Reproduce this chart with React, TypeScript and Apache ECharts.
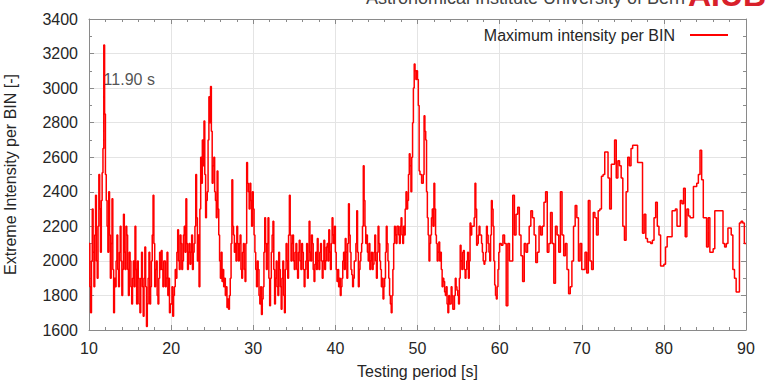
import React, { useEffect, useRef } from 'react';
import * as echarts from 'echarts';

// Start of each 10-second block; every block is split into equal bins
const decades = [10, 20, 30, 40, 50, 60, 70, 80];
const BLOCK = 10;

// Maximum intensity per BIN (0.1 s bins up to 60 s, 0.2 s after)
const seg10 = [2100, 1850, 1700, 2000, 2300, 2050, 1850, 2150, 2380, 2000, 1900, 2200, 2500, 2300, 2050, 2350, 2510, 2650, 3250, 2850, 2500, 2350, 2200, 2050, 2400, 2150, 1900, 2100, 2360, 1950, 1700, 1900, 1850, 2000, 2150, 1950, 1850, 2050, 2200, 2000, 1800, 1950, 2270, 2050, 1950, 2200, 2150, 1950, 1800, 2050, 2000, 1850, 1750, 1900, 2000, 1850, 2200, 1950, 1750, 2000, 1900, 1750, 1700, 1900, 2050, 1850, 1680, 1900, 2080, 1850, 1620, 1750, 1900, 2050, 1750, 1850, 2000, 2150, 2380, 2100, 1850, 1950, 2000, 1800, 1750, 1900, 2050, 1950, 2060, 1950, 1850, 2000, 2000, 1850, 1900, 2050, 1800, 1900, 1700, 1750];
const seg20 = [1750, 1850, 1680, 1800, 1850, 1950, 1900, 2050, 2180, 2000, 1950, 2150, 2100, 1950, 2000, 2150, 2200, 2050, 2360, 2100, 1950, 2050, 2100, 1980, 2050, 2150, 1950, 2050, 2100, 2200, 2500, 2250, 2000, 2150, 1850, 2300, 2600, 2450, 2700, 2550, 2810, 2500, 2250, 2350, 2400, 2700, 2950, 2800, 3010, 2750, 2450, 2550, 2600, 2400, 2350, 2250, 2520, 2300, 2150, 2000, 1900, 2050, 1880, 1950, 1850, 1900, 1800, 1850, 1730, 1780, 1720, 1800, 1900, 2100, 2470, 2200, 2150, 2050, 2100, 2000, 2200, 2100, 2000, 2100, 2150, 1950, 1900, 2050, 2100, 1950, 1880, 2100, 2570, 2450, 2400, 2300, 2450, 2350, 2200, 2400];
const seg30 = [2300, 2150, 2050, 1950, 1850, 2000, 1950, 1800, 1750, 1850, 1690, 1780, 1850, 2050, 2250, 2100, 1950, 2100, 2250, 1900, 1740, 1900, 2050, 2150, 2230, 1950, 1750, 1900, 2000, 1850, 1800, 2050, 1950, 1850, 1720, 1900, 2000, 1800, 1700, 1950, 2100, 2000, 1900, 2150, 2380, 2150, 2000, 2100, 2150, 2000, 1950, 2050, 2100, 1950, 1900, 2050, 2120, 2000, 1950, 2100, 2050, 1950, 1850, 1950, 2000, 2100, 1900, 2000, 2230, 2050, 2000, 2150, 2100, 1950, 1880, 1980, 2050, 1950, 2130, 2000, 1950, 2050, 2100, 2000, 1900, 2000, 2120, 1950, 2000, 2080, 2100, 2000, 2180, 2050, 1950, 2100, 2250, 2150, 2100, 2200];
const seg40 = [2050, 1950, 1880, 1950, 1850, 1900, 1800, 1850, 1900, 2000, 2050, 1950, 2130, 2050, 1900, 2100, 2330, 2150, 2050, 1950, 1920, 1850, 1900, 2000, 2000, 2100, 2290, 2050, 1850, 1950, 2000, 2050, 2100, 2200, 2550, 2350, 2200, 2100, 2150, 2050, 2000, 2100, 1950, 2000, 2050, 1950, 1980, 2050, 2150, 2000, 1900, 2050, 2200, 2100, 2000, 1950, 1850, 1900, 1780, 1850, 1900, 2050, 2200, 2100, 2000, 1900, 1800, 1750, 1700, 1800, 1950, 2100, 2200, 2150, 2100, 2200, 2200, 2150, 2100, 2200, 2250, 2150, 2100, 2200, 2150, 2300, 2400, 2300, 2350, 2500, 2620, 2550, 2400, 2600, 2800, 3000, 3140, 3100, 3050, 3100];
const seg50 = [3050, 2900, 2520, 2500, 2500, 2450, 2450, 2500, 2840, 2750, 2700, 2400, 2250, 2150, 2000, 2100, 2150, 2250, 2300, 2200, 2450, 2300, 2150, 2100, 2000, 2050, 2110, 2000, 2050, 1950, 1850, 1900, 1880, 1820, 1800, 1850, 1750, 1700, 1800, 1750, 1750, 1850, 1800, 1720, 1720, 1800, 1900, 1850, 1830, 1800, 1750, 1900, 2090, 2000, 1950, 2050, 2060, 1950, 1900, 1950, 2000, 2050, 1900, 2000, 2220, 2150, 2200, 2200, 2200, 2250, 2450, 2300, 2090, 2100, 2150, 2200, 2150, 2150, 2100, 2050, 2000, 1980, 2000, 2050, 2200, 2150, 2100, 2050, 2000, 2150, 2350, 2300, 2200, 2000, 1860, 1800, 1780, 1850, 1950, 2050];
const seg60 = [2100, 2090, 2150, 2100, 1740, 2100, 2000, 2000, 2380, 2150, 2270, 2310, 2150, 2030, 1880, 2100, 2050, 2100, 2200, 2290, 2250, 2150, 1990, 2050, 2200, 2150, 2200, 2340, 2400, 2050, 2100, 2280, 2100, 1870, 2200, 2150, 2050, 2400, 2150, 2030, 2100, 1950, 1810, 1850, 2000, 2200, 2320, 2250, 2000, 2100];
const seg70 = [1950, 1950, 2050, 1930, 2350, 2000, 1950, 2280, 2250, 2150, 2290, 2300, 2490, 2500, 2630, 2630, 2480, 2300, 2560, 2560, 2700, 2480, 2580, 2550, 2480, 2200, 2120, 2400, 2600, 2550, 2650, 2670, 2670, 2670, 2570, 2570, 2570, 2160, 2270, 2130, 2110, 2110, 2100, 2120, 2250, 2340, 2200, 2150, 1970, 1970];
const seg80 = [1980, 2080, 2140, 2140, 2140, 2290, 2290, 2300, 2200, 2200, 2350, 2330, 2420, 2140, 2300, 2260, 2250, 2250, 2430, 2430, 2450, 2500, 2640, 2470, 2250, 2250, 2080, 2250, 2050, 2050, 2070, 2290, 2290, 2290, 2290, 2290, 2100, 2080, 2100, 2190, 2190, 2150, 1950, 1900, 1820, 1820, 2220, 2230, 2220, 2100];

const segments = [seg10, seg20, seg30, seg40, seg50, seg60, seg70, seg80];

// Annotation
const peakLabel = '11.90 s';
const peakLabelPos: [number, number] = [11.9, 3050];

const seriesName = 'Maximum intensity per BIN';
const xName = 'Testing period [s]';
const yName = 'Extreme Intensity per BIN [-]';
const headerText = 'Astronomical Institute University of Bern';
const logoText = 'AIUB';

const FONT = '"Liberation Sans", Arial, Helvetica, sans-serif';

function buildData(): [number, number][] {
  const out: [number, number][] = [];
  segments.forEach((seg, k) => {
    const bin = BLOCK / seg.length;
    seg.forEach((v, i) => {
      out.push([Math.round((decades[k] + i * bin) * 1000) / 1000, v]);
    });
  });
  const last = out[out.length - 1][1];
  out.push([90, last]);
  return out;
}

export default function App() {
  const ref = useRef<HTMLDivElement>(null);

  useEffect(() => {
    if (!ref.current) return;
    const chart = echarts.init(ref.current, undefined, { renderer: 'svg' });
    const data = buildData();
    const axisColor = '#8a8a8a';
    const textColor = '#262626';

    const commonX = { type: 'value' as const, min: 10, max: 90, interval: 10 };
    const commonY = { type: 'value' as const, min: 1600, max: 3400, interval: 200 };

    chart.setOption({
      animation: false,
      backgroundColor: '#ffffff',
      textStyle: { fontFamily: FONT },
      grid: {
        left: 89,
        right: 30,
        top: 19,
        bottom: 59,
        containLabel: false,
        outerBoundsMode: 'none',
      },
      legend: {
        data: [{ name: seriesName, icon: 'rect' }],
        right: 48,
        top: 27,
        padding: 0,
        align: 'right',
        itemWidth: 38,
        itemHeight: 2,
        selectedMode: false,
        textStyle: { fontSize: 16, color: textColor, fontFamily: FONT, padding: [0, 10, 0, 0] },
      },
      xAxis: [
        {
          ...commonX,
          position: 'bottom',
          name: xName,
          nameLocation: 'middle',
          nameGap: 33,
          nameTextStyle: { fontSize: 16, color: textColor, fontFamily: FONT },
          axisLine: { show: true, lineStyle: { color: axisColor, width: 1 } },
          axisTick: { show: true, inside: true, length: 5, lineStyle: { color: axisColor } },
          minorTick: { show: true, splitNumber: 5, length: 3, lineStyle: { color: axisColor } },
          axisLabel: { show: true, margin: 10, fontSize: 16, color: textColor, fontFamily: FONT },
          splitLine: { show: true, lineStyle: { color: '#e4e4e4', width: 1 } },
        },
        {
          ...commonX,
          position: 'top',
          axisLine: { show: true, lineStyle: { color: axisColor, width: 1 } },
          axisTick: { show: true, inside: true, length: 5, lineStyle: { color: axisColor } },
          minorTick: { show: true, splitNumber: 5, length: 3, lineStyle: { color: axisColor } },
          axisLabel: { show: false },
          splitLine: { show: false },
        },
      ],
      yAxis: [
        {
          ...commonY,
          position: 'left',
          name: yName,
          nameLocation: 'middle',
          nameGap: 71,
          nameRotate: 90,
          nameTextStyle: { fontSize: 16, color: textColor, fontFamily: FONT },
          axisLine: { show: true, lineStyle: { color: axisColor, width: 1 } },
          axisTick: { show: true, inside: true, length: 5, lineStyle: { color: axisColor } },
          minorTick: { show: true, splitNumber: 2, length: 3, lineStyle: { color: axisColor } },
          axisLabel: {
            show: true,
            margin: 11,
            fontSize: 16,
            color: textColor,
            fontFamily: FONT,
            formatter: (v: number) => String(v),
          },
          splitLine: { show: true, lineStyle: { color: '#e4e4e4', width: 1 } },
        },
        {
          ...commonY,
          position: 'right',
          axisLine: { show: true, lineStyle: { color: axisColor, width: 1 } },
          axisTick: { show: true, inside: true, length: 5, lineStyle: { color: axisColor } },
          minorTick: { show: true, splitNumber: 2, length: 3, lineStyle: { color: axisColor } },
          axisLabel: { show: false },
          splitLine: { show: false },
        },
      ],
      series: [
        {
          name: seriesName,
          type: 'line',
          step: 'end',
          xAxisIndex: 0,
          yAxisIndex: 0,
          data,
          showSymbol: false,
          symbol: 'none',
          lineStyle: { color: '#ff0000', width: 1.5 },
          itemStyle: { color: '#ff0000' },
          z: 3,
        },
        {
          name: 'label',
          type: 'scatter',
          xAxisIndex: 0,
          yAxisIndex: 0,
          data: [peakLabelPos],
          symbolSize: 0,
          silent: true,
          label: {
            show: true,
            position: 'right',
            distance: 0,
            offset: [-1, 0],
            formatter: peakLabel,
            fontSize: 16,
            color: textColor,
            fontFamily: FONT,
          },
          z: 4,
        },
      ],
      graphic: [
        {
          type: 'text',
          x: 685,
          y: -2,
          silent: true,
          style: {
            text: headerText,
            fill: '#444444',
            font: '18px ' + FONT,
            textAlign: 'right',
            textVerticalAlign: 'middle',
          },
        },
        {
          type: 'text',
          x: 688,
          y: -5,
          silent: true,
          style: {
            text: logoText,
            fill: '#d8202a',
            font: 'bold 32px ' + FONT,
            textAlign: 'left',
            textVerticalAlign: 'middle',
          },
        },
      ],
    });

    return () => {
      chart.dispose();
    };
  }, []);

  return (
    <div
      ref={ref}
      style={{ position: 'fixed', left: 0, top: 0, width: 776, height: 389, background: '#fff' }}
    />
  );
}
